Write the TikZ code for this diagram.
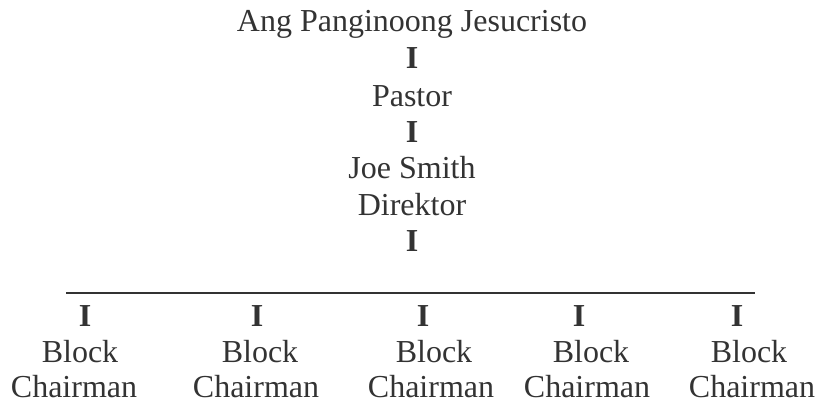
\documentclass[tikz,border=0pt]{standalone}
\usepackage{fontspec}
\setmainfont{Liberation Serif}

\begin{document}
\begin{tikzpicture}[x=1pt, y=1pt,
	every node/.style={inner sep=0pt, anchor=base, text=black!80,
		font=\fontsize{32}{36}\selectfont},
	bar/.style={font=\fontsize{32}{36}\selectfont\bfseries}]

\def \mid {412}   % x of the top column
\def \rule {113}  % y of the long line

\useasboundingbox (0,0) rectangle (820,406);

\node (lord)   at (\mid,374) {Ang Panginoong Jesucristo};
\node[bar] (tie1) at (\mid,337) {I};
\node (pastor) at (\mid,299) {Pastor};
\node[bar] (tie2) at (\mid,263) {I};
\node (joe)    at (\mid,227) {Joe Smith};
\node (dir)    at (\mid,190) {Direktor};
\node[bar] (tie3) at (\mid,154) {I};

\coordinate (ruleL) at (66,\rule);
\coordinate (ruleR) at (755,\rule);
\draw[black!80, line width=1.6pt] (ruleL) -- (ruleR);

% x of the I, of Block and of Chairman in each column
\foreach \ix/\bx/\cx [count=\k] in {85/80/74, 257/260/256, 423/434/431, 579/591/587, 737/749/752}
{
	\node[bar] (btie\k) at (\ix,79) {I};
	\node (block\k) at (\bx,43) {Block};
	\node (chair\k) at (\cx,8) {Chairman};
}
\end{tikzpicture}
\end{document}
